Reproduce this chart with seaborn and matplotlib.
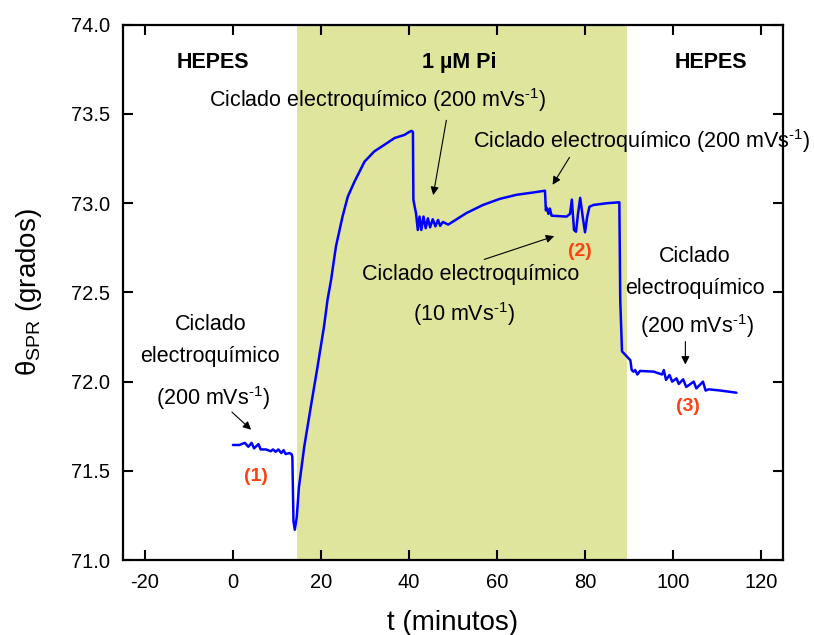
import numpy as np
import pandas as pd
import matplotlib
matplotlib.use("Agg")
import matplotlib.pyplot as plt
import seaborn as sns

# SPR angle trace (t in minutes, theta in degrees)
t = [0.0, 1.5, 2.7, 3.5, 4.25, 4.8, 5.8, 6.3, 7.5, 8.6, 9.1, 9.7, 10.3, 11.0, 11.5, 12.0,
     12.8, 13.3, 13.5, 13.75, 14.05, 14.5, 15.0, 16.2, 17.7, 19.2, 20.7, 21.5, 22.3, 23.4,
     24.9, 26.1, 27.6, 29.9, 32.1, 34.4, 36.7, 39.0, 40.1, 40.6, 40.9, 41.0, 41.3,
     41.6, 42.0, 42.4, 42.8, 43.3, 43.8, 44.3, 44.8, 45.4, 46.0, 46.6, 47.1, 47.7, 48.9,
     50.0, 53.0, 56.8, 60.6, 64.4, 68.2, 70.9, 71.1, 71.3, 71.7, 72.0, 72.4, 75.8, 76.6,
     77.0, 77.5, 77.96, 78.4, 78.9, 79.5, 80.0, 80.5, 81.0, 81.9, 85.0, 87.8, 88.0, 88.4,
     90.3, 90.6, 91.0, 91.4, 91.9, 92.5, 95.6, 97.5, 97.9, 98.4, 99.2, 99.8, 100.8, 101.3,
     102.3, 103.0, 104.7, 105.3, 106.8, 107.4, 108.1, 110.8, 114.4]
theta = [71.645, 71.645, 71.657, 71.635, 71.657, 71.626, 71.65, 71.62, 71.62, 71.61,
         71.62, 71.607, 71.62, 71.60, 71.616, 71.594, 71.60, 71.594, 71.58, 71.22, 71.17,
         71.24, 71.41, 71.635, 71.86, 72.08, 72.31, 72.46, 72.57, 72.757, 72.925, 73.037,
         73.12, 73.233, 73.29, 73.327, 73.365, 73.383, 73.40, 73.405, 73.40, 73.02, 72.98,
         72.944, 72.85, 72.925, 72.85, 72.925, 72.86, 72.915, 72.865, 72.91, 72.87, 72.906,
         72.873, 72.895, 72.88, 72.897, 72.944, 72.99, 73.024, 73.047, 73.06, 73.07, 72.96,
         72.975, 72.94, 72.97, 72.93, 72.925, 72.94, 73.02, 72.85, 72.84, 72.94, 73.03,
         72.92, 72.837, 72.925, 72.98, 72.99, 73.0, 73.005, 72.46, 72.17, 72.12, 72.065,
         72.056, 72.065, 72.04, 72.06, 72.056, 72.04, 72.065, 72.01, 72.037, 72.0, 72.018,
         71.987, 72.013, 71.97, 72.0, 71.962, 72.0, 71.95, 71.957, 71.95, 71.938]

pi_start, pi_end = 14.5, 89.6
xticks = [-20, 0, 20, 40, 60, 80, 100, 120]
yticks = [71.0, 71.5, 72.0, 72.5, 73.0, 73.5, 74.0]

df = pd.DataFrame({"t": t, "theta": theta})

sns.set_style("ticks")
plt.rcParams["font.family"] = ["Liberation Sans", "DejaVu Sans"]
plt.rcParams["mathtext.fontset"] = "custom"
plt.rcParams["mathtext.rm"] = "Liberation Sans"
plt.rcParams["mathtext.it"] = "Liberation Sans:italic"
plt.rcParams["mathtext.bf"] = "Liberation Sans:bold"
plt.rcParams["axes.unicode_minus"] = False
plt.rcParams["text.color"] = "black"
plt.rcParams["axes.labelcolor"] = "black"

fig = plt.figure(figsize=(8.14, 6.35), dpi=100)
ax = fig.add_axes([0.151, 0.118, 0.811, 0.843])

ax.axvspan(pi_start, pi_end, color="#dfe59d", lw=0, zorder=0)
sns.lineplot(data=df, x="t", y="theta", sort=False, estimator=None,
             color="#0000ff", lw=1.8, ax=ax)

ax.set_xlim(-25, 125)
ax.set_ylim(71.0, 74.0)
ax.set_xticks(xticks)
ax.set_yticks(yticks)
ax.set_yticklabels([f"{v:.1f}" for v in yticks])
ax.tick_params(direction="in", length=7, width=1.5, labelsize=14.5,
               top=True, right=True, pad=9, colors="black")
for s in ax.spines.values():
    s.set_linewidth(1.6)
    s.set_color("black")

ax.set_xlabel("t (minutos)", fontsize=20, labelpad=13)
ax.set_ylabel(r"θ$_{\mathregular{SPR}}$ (grados)", fontsize=20, labelpad=20)

fs = 15.5
red = "#ff3f10"
sup = r"$^{\mathregular{‐1}}$"
arrow = dict(arrowstyle="-|>", color="black", lw=0.8, mutation_scale=12)

ax.text(-4.6, 73.79, "HEPES", fontsize=15.5, fontweight="bold", ha="center", va="center")
ax.text(51.5, 73.79, "1 µM Pi", fontsize=15.5, fontweight="bold", ha="center", va="center")
ax.text(108.5, 73.79, "HEPES", fontsize=15.5, fontweight="bold", ha="center", va="center")

ax.text(33, 73.58, "Ciclado electroquímico (200 mVs" + sup + ")",
        fontsize=fs, ha="center", va="center")
ax.annotate("", xy=(45.4, 73.03), xytext=(48.6, 73.48), arrowprops=arrow)

ax.text(92.8, 73.35, "Ciclado electroquímico (200 mVs" + sup + ")",
        fontsize=fs, ha="center", va="center")
ax.annotate("", xy=(72.3, 73.09), xytext=(76.8, 73.27), arrowprops=arrow)

ax.text(54, 72.6, "Ciclado electroquímico", fontsize=fs, ha="center", va="center")
ax.text(52.5, 72.38, "(10 mVs" + sup + ")", fontsize=fs, ha="center", va="center")
ax.annotate("", xy=(73.6, 72.82), xytext=(56.5, 72.68), arrowprops=arrow)
ax.text(78.9, 72.73, "(2)", fontsize=14, fontweight="bold", color=red, ha="center", va="center")

ax.text(-5, 72.32, "Ciclado", fontsize=fs, ha="center", va="center")
ax.text(-5.3, 72.14, "electroquímico", fontsize=fs, ha="center", va="center")
ax.text(-4.6, 71.91, "(200 mVs" + sup + ")", fontsize=fs, ha="center", va="center")
ax.annotate("", xy=(4.6, 71.72), xytext=(-0.7, 71.84), arrowprops=arrow)
ax.text(5.2, 71.47, "(1)", fontsize=14, fontweight="bold", color=red, ha="center", va="center")

ax.text(105, 72.7, "Ciclado", fontsize=fs, ha="center", va="center")
ax.text(105, 72.52, "electroquímico", fontsize=fs, ha="center", va="center")
ax.text(105.5, 72.31, "(200 mVs" + sup + ")", fontsize=fs, ha="center", va="center")
ax.annotate("", xy=(102.8, 72.08), xytext=(102.8, 72.24), arrowprops=arrow)
ax.text(103.3, 71.86, "(3)", fontsize=14, fontweight="bold", color=red, ha="center", va="center")

fig.savefig("out.png", dpi=100)
